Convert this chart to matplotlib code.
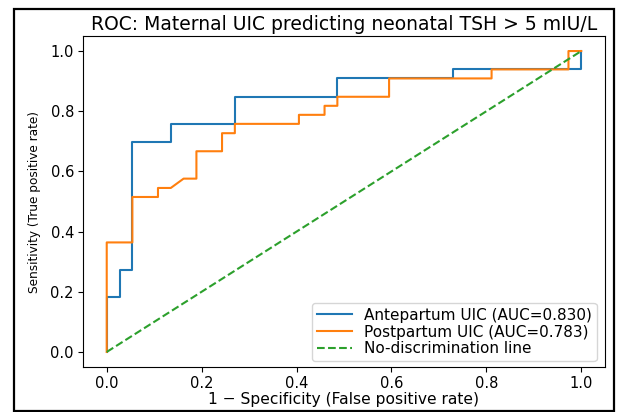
import matplotlib
matplotlib.use("Agg")
import matplotlib.pyplot as plt
from matplotlib.patches import Rectangle

# ROC step points
ante_fpr = [0.0, 0.0, 0.027, 0.027, 0.054, 0.054, 0.135, 0.135, 0.270, 0.270,
            0.486, 0.486, 0.730, 0.730, 1.0, 1.0]
ante_tpr = [0.0, 0.182, 0.182, 0.273, 0.273, 0.697, 0.697, 0.758, 0.758, 0.848,
            0.848, 0.909, 0.909, 0.939, 0.939, 1.0]

post_fpr = [0.0, 0.0, 0.054, 0.054, 0.108, 0.108, 0.135, 0.162, 0.189, 0.189,
            0.243, 0.243, 0.270, 0.270, 0.405, 0.405, 0.459, 0.459, 0.486, 0.486,
            0.595, 0.595, 0.811, 0.811, 0.973, 0.973, 1.0]
post_tpr = [0.0, 0.364, 0.364, 0.515, 0.515, 0.545, 0.545, 0.576, 0.576, 0.667,
            0.667, 0.727, 0.727, 0.758, 0.758, 0.788, 0.788, 0.818, 0.818, 0.848,
            0.848, 0.909, 0.909, 0.939, 0.939, 1.0, 1.0]

diag = [0.0, 1.0]
auc_ante, auc_post = 0.830, 0.783

W, H = 617, 412
fig = plt.figure(figsize=(W / 100, H / 100), dpi=100)
ax = fig.add_axes([83 / W, 1 - 367 / H, (605 - 83) / W, (367 - 36) / H])

ax.plot(ante_fpr, ante_tpr, color="#1f77b4", lw=1.5, label=f"Antepartum UIC (AUC={auc_ante:.3f})")
ax.plot(post_fpr, post_tpr, color="#ff7f0e", lw=1.5, label=f"Postpartum UIC (AUC={auc_post:.3f})")
ax.plot(diag, diag, "--", color="#2ca02c", lw=1.5, label="No-discrimination line")

ax.set_xlim(-0.05, 1.05)
ax.set_ylim(-0.05, 1.05)
ax.set_xticks([0.0, 0.2, 0.4, 0.6, 0.8, 1.0])
ax.set_yticks([0.0, 0.2, 0.4, 0.6, 0.8, 1.0])
ax.tick_params(labelsize=10.5, pad=3)
ax.set_xlabel("1 \u2212 Specificity (False positive rate)", fontsize=11.2, labelpad=1)
ax.set_ylabel("Sensitivity (True positive rate)", fontsize=8.7, labelpad=7)
ax.set_title("ROC: Maternal UIC predicting neonatal TSH > 5 mIU/L", fontsize=13.5, pad=4)
ax.legend(loc="lower right", bbox_to_anchor=(596.5 / W, 1 - 361 / H),
          bbox_transform=fig.transFigure, borderaxespad=0, fontsize=11,
          labelspacing=0.12, borderpad=0.3, handlelength=2.3, handletextpad=0.8)

# black frame around the whole picture
fig.patches.append(Rectangle((14 / W, 1 / H), 600 / W, 402 / H,
                             transform=fig.transFigure, fill=False, ec="black", lw=1.6))

fig.savefig("out.png", dpi=100)
